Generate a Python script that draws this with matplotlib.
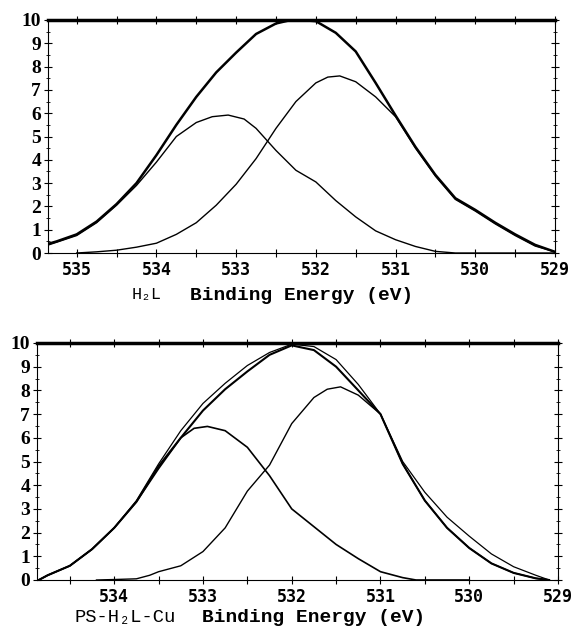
import matplotlib
matplotlib.use("Agg")
import matplotlib.pyplot as plt
from matplotlib.ticker import MultipleLocator

# ---- top panel (H2L) ----
top_env_x = [535.35, 535.25, 535.0, 534.75, 534.5, 534.25, 534.0, 533.75, 533.5,
             533.25, 533.0, 532.75, 532.5, 532.35, 532.2, 532.0, 531.75, 531.5,
             531.25, 531.0, 530.75, 530.5, 530.25, 530.0, 529.75, 529.5, 529.25,
             529.0]
top_env_y = [0.4, 0.5, 0.8, 1.35, 2.1, 3.0, 4.2, 5.5, 6.7,
             7.75, 8.6, 9.4, 9.85, 9.97, 10.0, 9.95, 9.45, 8.65,
             7.3, 5.9, 4.55, 3.35, 2.35, 1.85, 1.3, 0.8, 0.35,
             0.05]

top_c1_x = [535.35, 535.0, 534.75, 534.5, 534.25, 534.0, 533.75, 533.5, 533.3,
            533.1, 532.9, 532.75, 532.5, 532.25, 532.0, 531.75, 531.5, 531.25,
            531.0, 530.75, 530.5, 530.25, 529.0]
top_c1_y = [0.35, 0.75, 1.3, 2.05, 2.9, 3.9, 5.0, 5.6, 5.85,
            5.92, 5.75, 5.35, 4.4, 3.55, 3.05, 2.25, 1.55, 0.95,
            0.57, 0.28, 0.07, 0.0, 0.0]

top_c2_x = [535.0, 534.75, 534.5, 534.25, 534.0, 533.75, 533.5, 533.25, 533.0,
            532.75, 532.5, 532.25, 532.0, 531.85, 531.7, 531.5, 531.25, 531.0,
            530.75, 530.5, 530.25, 530.0, 529.75, 529.5, 529.25, 529.0]
top_c2_y = [0.0, 0.05, 0.12, 0.25, 0.42, 0.8, 1.3, 2.05, 2.95,
            4.05, 5.35, 6.5, 7.3, 7.55, 7.6, 7.35, 6.7, 5.85,
            4.5, 3.3, 2.3, 1.8, 1.25, 0.75, 0.3, 0.05]

# ---- bottom panel (PS-H2L-Cu) ----
bot_x = [534.85, 534.75, 534.5, 534.25, 534.0, 533.75, 533.5, 533.25, 533.0,
         532.75, 532.5, 532.25, 532.0, 531.75, 531.5, 531.25, 531.0, 530.75,
         530.5, 530.25, 530.0, 529.75, 529.5, 529.25, 529.1]
bot_data_y = [0.0, 0.2, 0.6, 1.3, 2.2, 3.35, 4.9, 6.3, 7.45,
              8.3, 9.05, 9.6, 9.95, 9.85, 9.3, 8.25, 7.0, 5.0,
              3.7, 2.65, 1.85, 1.1, 0.56, 0.2, 0.0]
bot_fit_y = [0.0, 0.2, 0.6, 1.3, 2.2, 3.3, 4.8, 6.0, 7.15,
             8.05, 8.8, 9.5, 9.9, 9.7, 9.0, 8.0, 7.0, 4.9,
             3.35, 2.2, 1.35, 0.7, 0.3, 0.07, 0.0]

bot_c1_x = [534.85, 534.75, 534.5, 534.25, 534.0, 533.75, 533.5, 533.25, 533.1,
            532.95, 532.75, 532.5, 532.25, 532.0, 531.75, 531.5, 531.25, 531.0,
            530.75, 530.6, 530.0]
bot_c1_y = [0.0, 0.2, 0.6, 1.3, 2.2, 3.3, 4.7, 6.0, 6.4,
            6.48, 6.3, 5.6, 4.4, 3.0, 2.25, 1.5, 0.9, 0.35,
            0.1, 0.0, 0.0]

bot_c2_x = [534.2, 534.0, 533.75, 533.6, 533.5, 533.25, 533.0, 532.75, 532.5,
            532.25, 532.0, 531.75, 531.6, 531.45, 531.25, 531.0, 530.75, 530.5,
            530.25, 530.0, 529.75, 529.5, 529.25, 529.1]
bot_c2_y = [0.0, 0.02, 0.05, 0.2, 0.35, 0.6, 1.2, 2.2, 3.75,
            4.85, 6.6, 7.7, 8.05, 8.15, 7.8, 7.0, 4.9, 3.35,
            2.2, 1.35, 0.7, 0.3, 0.07, 0.0]

yticks = list(range(0, 11))

W, H = 579, 631
fig = plt.figure(figsize=(W / 100, H / 100), dpi=100)


def style_axes(ax, xlim):
    ax.set_xlim(*xlim)
    ax.set_ylim(0, 10)
    for s in ["left", "bottom", "right"]:
        ax.spines[s].set_linewidth(0.8)
    ax.spines["top"].set_linewidth(2.5)
    ax.xaxis.set_major_locator(MultipleLocator(1))
    ax.xaxis.set_minor_locator(MultipleLocator(0.5))
    ax.set_yticks(yticks)
    ax.yaxis.set_minor_locator(MultipleLocator(0.5))
    ax.tick_params(axis="x", which="both", direction="inout", length=6,
                   width=0.8, top=True, pad=3)
    ax.tick_params(axis="y", which="major", direction="inout", length=6,
                   width=0.8, right=True, pad=2)
    ax.tick_params(axis="y", which="minor", direction="inout", length=3,
                   width=0.6, right=True)
    for lab in ax.get_xticklabels():
        lab.set_fontfamily("DejaVu Sans Mono")
        lab.set_fontweight("bold")
        lab.set_fontsize(12)
    for lab in ax.get_yticklabels():
        lab.set_fontfamily("Liberation Serif")
        lab.set_fontweight("bold")
        lab.set_fontsize(14)


ax1 = fig.add_axes([48 / W, (H - 253) / H, (555 - 48) / W, (253 - 20) / H])
ax1.plot(top_c1_x, top_c1_y, color="black", lw=1.0)
ax1.plot(top_c2_x, top_c2_y, color="black", lw=1.0)
ax1.plot(top_env_x, top_env_y, color="black", lw=1.8)
style_axes(ax1, (535.36, 529))

ax2 = fig.add_axes([37 / W, (H - 580) / H, (558 - 37) / W, (580 - 343) / H])
ax2.plot(bot_c1_x, bot_c1_y, color="black", lw=1.2)
ax2.plot(bot_c2_x, bot_c2_y, color="black", lw=1.0)
ax2.plot(bot_x, bot_data_y, color="black", lw=0.9)
ax2.plot(bot_x, bot_fit_y, color="black", lw=1.5)
style_axes(ax2, (534.87, 529))

mono = ["Liberation Mono", "DejaVu Sans Mono"]
fig.text(132 / W, (H - 295) / H, "H₂L", family=mono, fontsize=12, va="center")
fig.text(190 / W, (H - 295) / H, "Binding Energy (eV)", family=mono,
         fontweight="bold", fontsize=14, va="center")
fig.text(74 / W, (H - 617) / H, "PS-H₂L-Cu", family=mono, fontsize=13.5, va="center")
fig.text(202 / W, (H - 617) / H, "Binding Energy (eV)", family=mono,
         fontweight="bold", fontsize=14, va="center")

fig.savefig("out.png", dpi=100)
